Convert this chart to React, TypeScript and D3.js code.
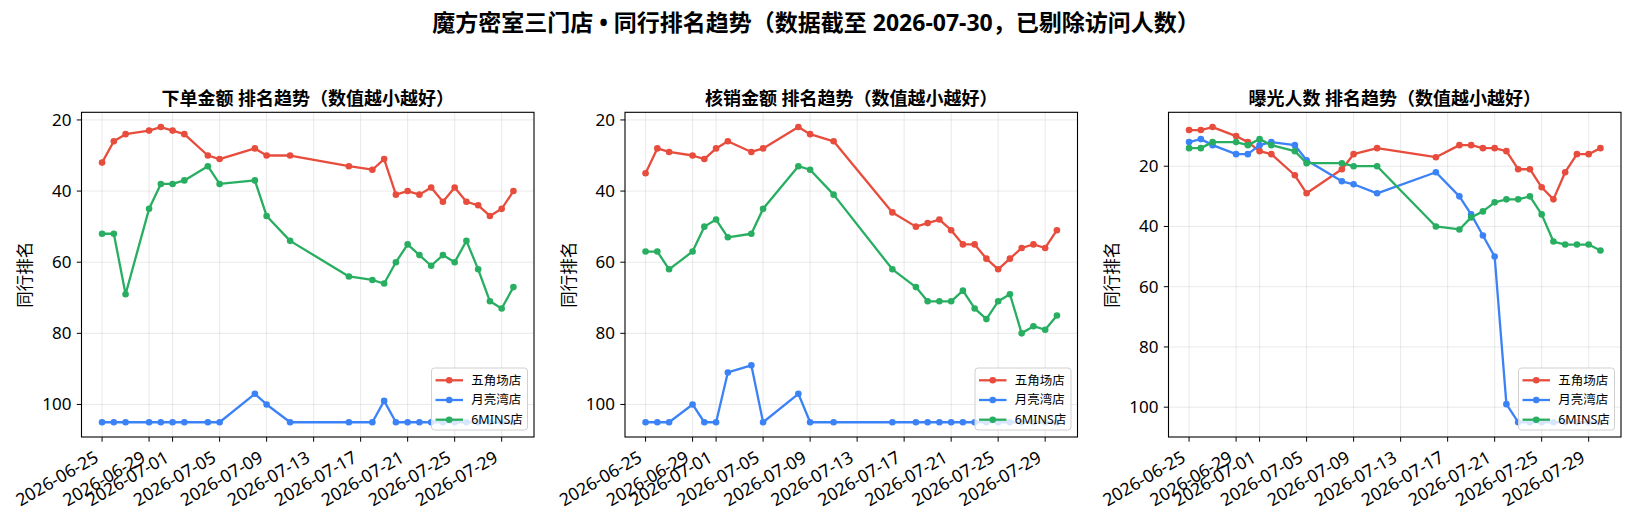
import { useEffect, useRef } from 'react';
import * as d3 from 'd3';

// Dates with data (gaps are real: no record on those days)
const dates = [
    '2026-06-25', '2026-06-26', '2026-06-27', '2026-06-29', '2026-06-30', '2026-07-01',
    '2026-07-02', '2026-07-04', '2026-07-05', '2026-07-08', '2026-07-09', '2026-07-11',
    '2026-07-16', '2026-07-18', '2026-07-19', '2026-07-20', '2026-07-21', '2026-07-22',
    '2026-07-23', '2026-07-24', '2026-07-25', '2026-07-26', '2026-07-27', '2026-07-28',
    '2026-07-29', '2026-07-30'
];

const xTickDates = [
    '2026-06-25', '2026-06-29', '2026-07-01', '2026-07-05', '2026-07-09',
    '2026-07-13', '2026-07-17', '2026-07-21', '2026-07-25', '2026-07-29'
];
const yTicks = [20, 40, 60, 80, 100];

const stores = ['五角场店', '月亮湾店', '6MINS店'];
const storeColors = ['#e74c3c', '#3b82f6', '#27ae60'];

const panelTitles = [
    '下单金额 排名趋势（数值越小越好）',
    '核销金额 排名趋势（数值越小越好）',
    '曝光人数 排名趋势（数值越小越好）'
];

// 下单金额
const orderWujiaochang = [32, 26, 24, 23, 22, 23, 24, 30, 31, 28, 30, 30, 33, 34, 31, 41, 40, 41, 39, 43, 39, 43, 44, 47, 45, 40];
const orderYueliangwan = [105, 105, 105, 105, 105, 105, 105, 105, 105, 97, 100, 105, 105, 105, 99, 105, 105, 105, 105, 105, 105, 105, 105, 105, 105, 105];
const order6mins = [52, 52, 69, 45, 38, 38, 37, 33, 38, 37, 47, 54, 64, 65, 66, 60, 55, 58, 61, 58, 60, 54, 62, 71, 73, 67];

// 核销金额
const redeemWujiaochang = [35, 28, 29, 30, 31, 28, 26, 29, 28, 22, 24, 26, 46, 50, 49, 48, 51, 55, 55, 59, 62, 59, 56, 55, 56, 51];
const redeemYueliangwan = [105, 105, 105, 100, 105, 105, 91, 89, 105, 97, 105, 105, 105, 105, 105, 105, 105, 105, 105, 105, 105, 105, 105, 105, 105, 105];
const redeem6mins = [57, 57, 62, 57, 50, 48, 53, 52, 45, 33, 34, 41, 62, 67, 71, 71, 71, 68, 73, 76, 71, 69, 80, 78, 79, 75];

// 曝光人数
const exposureWujiaochang = [8, 8, 7, 10, 12, 15, 16, 23, 29, 21, 16, 14, 17, 13, 13, 14, 14, 15, 21, 21, 27, 31, 22, 16, 16, 14];
const exposureYueliangwan = [12, 11, 13, 16, 16, 13, 12, 13, 18, 25, 26, 29, 22, 30, 36, 43, 50, 99, 105, 105, 105, 105, 105, 105, 105, 105];
const exposure6mins = [14, 14, 12, 12, 13, 11, 13, 15, 19, 19, 20, 20, 40, 41, 37, 35, 32, 31, 31, 30, 36, 45, 46, 46, 46, 48];

const panelSeries = [
    [orderWujiaochang, orderYueliangwan, order6mins],
    [redeemWujiaochang, redeemYueliangwan, redeem6mins],
    [exposureWujiaochang, exposureYueliangwan, exposure6mins]
];

const FONT = "'Noto Sans', 'Noto Sans CJK SC', sans-serif";

export default function App() {
    const svgRef = useRef<SVGSVGElement>(null);

    useEffect(() => {
        if (!svgRef.current) return;
        const svg = d3.select(svgRef.current);
        svg.selectAll('*').remove();

        const width = 1632;
        const plotTop = 112.3;
        const plotHeight = 437 - plotTop;
        const plotWidth = 452.5;
        const plotLefts = [81.5, 625, 1168.5];

        const parse = d3.timeParse('%Y-%m-%d');
        const xDates = dates.map(d => parse(d) as Date);
        const tickDates = xTickDates.map(d => parse(d) as Date);

        svg.append('rect').attr('width', width).attr('height', 521).attr('fill', '#fff');

        // Figure title
        svg.append('text')
            .attr('x', width / 2)
            .attr('y', 31)
            .attr('text-anchor', 'middle')
            .attr('font-family', FONT)
            .attr('font-size', '23px')
            .attr('font-weight', 700)
            .attr('fill', '#000')
            .text('魔方密室三门店 • 同行排名趋势（数据截至 2026-07-30，已剔除访问人数）');

        panelSeries.forEach((series, pi) => {
            const g = svg.append('g')
                .attr('transform', `translate(${plotLefts[pi]},${plotTop})`);

            // matplotlib-like 5% margins
            const first = xDates[0];
            const last = xDates[xDates.length - 1];
            const pad = (last.getTime() - first.getTime()) * 0.05;
            const xScale = d3.scaleTime()
                .domain([new Date(first.getTime() - pad), new Date(last.getTime() + pad)])
                .range([0, plotWidth]);

            const all = series.flat();
            const lo = d3.min(all) ?? 0;
            const hi = d3.max(all) ?? 100;
            const yPad = (hi - lo) * 0.05;
            const yScale = d3.scaleLinear()
                .domain([lo - yPad, hi + yPad])
                .range([0, plotHeight]);

            // Grid
            g.append('g').selectAll('line')
                .data(tickDates)
                .enter()
                .append('line')
                .attr('x1', d => xScale(d)).attr('x2', d => xScale(d))
                .attr('y1', 0).attr('y2', plotHeight)
                .attr('stroke', '#b0b0b0').attr('stroke-opacity', 0.35).attr('stroke-width', 0.8);
            g.append('g').selectAll('line')
                .data(yTicks)
                .enter()
                .append('line')
                .attr('x1', 0).attr('x2', plotWidth)
                .attr('y1', d => yScale(d)).attr('y2', d => yScale(d))
                .attr('stroke', '#b0b0b0').attr('stroke-opacity', 0.35).attr('stroke-width', 0.8);

            // Lines + markers
            series.forEach((vals, si) => {
                const pts = vals.map((v, i) => [xScale(xDates[i]), yScale(v)] as [number, number]);
                g.append('path')
                    .attr('d', d3.line()(pts))
                    .attr('fill', 'none')
                    .attr('stroke', storeColors[si])
                    .attr('stroke-width', 2.3)
                    .attr('stroke-linejoin', 'round');
                g.append('g').selectAll('circle')
                    .data(pts)
                    .enter()
                    .append('circle')
                    .attr('cx', d => d[0])
                    .attr('cy', d => d[1])
                    .attr('r', 3.3)
                    .attr('fill', storeColors[si]);
            });

            // Spines
            g.append('rect')
                .attr('width', plotWidth).attr('height', plotHeight)
                .attr('fill', 'none').attr('stroke', '#000').attr('stroke-width', 1.1);

            // X ticks
            const xt = g.append('g').selectAll('g')
                .data(tickDates)
                .enter()
                .append('g');
            xt.append('line')
                .attr('x1', d => xScale(d)).attr('x2', d => xScale(d))
                .attr('y1', plotHeight).attr('y2', plotHeight + 4.7)
                .attr('stroke', '#000').attr('stroke-width', 1);
            xt.append('text')
                .attr('transform', d => `translate(${xScale(d) - 2.5},${plotHeight + 24}) rotate(-30)`)
                .attr('text-anchor', 'end')
                .attr('font-family', FONT)
                .attr('font-size', '17.5px')
                .attr('fill', '#000')
                .text(d => d3.timeFormat('%Y-%m-%d')(d));

            // Y ticks
            const yt = g.append('g').selectAll('g')
                .data(yTicks)
                .enter()
                .append('g');
            yt.append('line')
                .attr('x1', -4.7).attr('x2', 0)
                .attr('y1', d => yScale(d)).attr('y2', d => yScale(d))
                .attr('stroke', '#000').attr('stroke-width', 1);
            yt.append('text')
                .attr('x', -10)
                .attr('y', d => yScale(d))
                .attr('dy', '0.35em')
                .attr('text-anchor', 'end')
                .attr('font-family', FONT)
                .attr('font-size', '17px')
                .attr('fill', '#000')
                .text(d => d);

            // Y label
            g.append('text')
                .attr('transform', `translate(-56,${plotHeight / 2}) rotate(-90)`)
                .attr('text-anchor', 'middle')
                .attr('dy', '0.35em')
                .attr('font-family', FONT)
                .attr('font-size', '16.5px')
                .attr('fill', '#000')
                .text('同行排名');

            // Panel title
            g.append('text')
                .attr('x', plotWidth / 2)
                .attr('y', -7)
                .attr('text-anchor', 'middle')
                .attr('font-family', FONT)
                .attr('font-size', '18px')
                .attr('font-weight', 700)
                .attr('fill', '#000')
                .text(panelTitles[pi]);

            // Legend
            const lw = 96;
            const lh = 62;
            const lx = plotWidth - 6.5 - lw;
            const ly = plotHeight - 7 - lh;
            const legend = g.append('g').attr('transform', `translate(${lx},${ly})`);
            legend.append('rect')
                .attr('width', lw).attr('height', lh).attr('rx', 3)
                .attr('fill', '#fff').attr('fill-opacity', 0.8)
                .attr('stroke', '#d0d0d0').attr('stroke-width', 1);
            stores.forEach((name, si) => {
                const ry = 12.3 + si * 19.7;
                legend.append('line')
                    .attr('x1', 4).attr('x2', 31.5)
                    .attr('y1', ry).attr('y2', ry)
                    .attr('stroke', storeColors[si]).attr('stroke-width', 2.3);
                legend.append('circle')
                    .attr('cx', 17.7).attr('cy', ry).attr('r', 3.3)
                    .attr('fill', storeColors[si]);
                legend.append('text')
                    .attr('x', 39.7)
                    .attr('y', ry)
                    .attr('dy', '0.35em')
                    .attr('font-family', FONT)
                    .attr('font-size', '12.5px')
                    .attr('fill', '#000')
                    .text(name);
            });
        });
    }, []);

    return (
        <svg
            ref={svgRef}
            width={1632}
            height={521}
            style={{ position: 'absolute', left: 0, top: 0, display: 'block' }}
        />
    );
}
